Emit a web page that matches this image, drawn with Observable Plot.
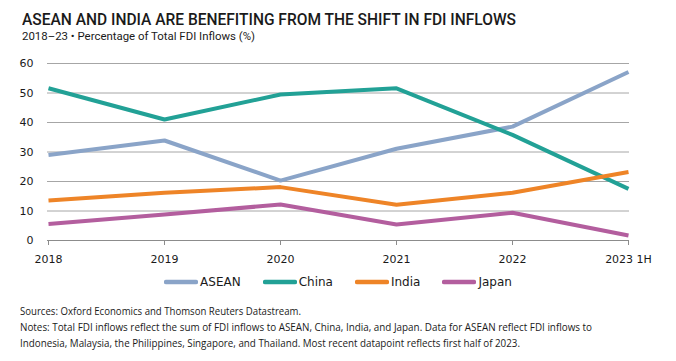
<!DOCTYPE html>
<html>
<head>
<meta charset="utf-8">
<script src="https://cdn.jsdelivr.net/npm/d3@7"></script>
<script src="https://cdn.jsdelivr.net/npm/@observablehq/plot@0.6"></script>
<style>
  html, body { margin: 0; padding: 0; background: #fff; }
  #page { position: relative; width: 676px; height: 361px; overflow: hidden; color: #1a1a1a; }
  .abs { position: absolute; white-space: nowrap; line-height: 1; transform-origin: 0 0; display: inline-block; }
  #title { left: 22px; top: 11.5px; font-family: Roboto, sans-serif; font-weight: 500; font-size: 16px; color: #1a1a1a; }
  #subtitle { left: 22px; top: 31px; font-family: Roboto, sans-serif; font-size: 11px; color: #1a1a1a; }
  #chart { position: absolute; left: 0; top: 50px; }
  #legend { position: absolute; left: 0; width: 676px; top: 274px; display: flex; justify-content: center; gap: 22px; font-family: "DejaVu Sans", sans-serif; font-size: 12px; color: #1a1a1a; }
  .item { display: flex; align-items: center; }
  .item svg { margin-right: 2px; }
  .note { left: 20px; font-family: "Open Sans", sans-serif; font-size: 10px; color: #1a1a1a; }
</style>
</head>
<body>
<div id="page">
  <span id="title" class="abs" data-w="494">ASEAN AND INDIA ARE BENEFITING FROM THE SHIFT IN FDI INFLOWS</span>
  <span id="subtitle" class="abs" data-w="233">2018–23 • Percentage of Total FDI Inflows (%)</span>
  <div id="chart"></div>
  <div id="legend"></div>
  <span class="abs note" style="top:306px" data-w="281">Sources: Oxford Economics and Thomson Reuters Datastream.</span>
  <span class="abs note" style="top:322px" data-w="572">Notes: Total FDI inflows reflect the sum of FDI inflows to ASEAN, China, India, and Japan. Data for ASEAN reflect FDI inflows to</span>
  <span class="abs note" style="top:337.5px" data-w="500">Indonesia, Malaysia, the Philippines, Singapore, and Thailand. Most recent datapoint reflects first half of 2023.</span>
</div>
<script>
const years = ["2018", "2019", "2020", "2021", "2022", "2023 1H"];
const seriesNames = ["ASEAN", "China", "India", "Japan"];
const seriesColors = ["#8AA4C8", "#22A196", "#EE8427", "#B35E9E"];
const asean = [29.0, 33.9, 20.3, 31.1, 38.6, 57.1];
const china = [51.6, 41.0, 49.5, 51.6, 35.8, 17.5];
const india = [13.6, 16.2, 18.1, 12.1, 16.2, 23.2];
const japan = [5.6, 8.8, 12.2, 5.4, 9.4, 1.7];
const yTicks = [0, 10, 20, 30, 40, 50, 60];

const valuesBySeries = [asean, china, india, japan];
const data = [];
seriesNames.forEach((s, i) => years.forEach((y, j) => data.push({series: s, year: y, value: valuesBySeries[i][j]})));

const chart = Plot.plot({
  width: 676,
  height: 220,
  marginTop: 13,
  marginBottom: 30,
  marginLeft: 47,
  marginRight: 47,
  style: {fontFamily: "DejaVu Sans, sans-serif", fontSize: "11px", color: "#1a1a1a", background: "transparent"},
  x: {type: "point", domain: years, padding: 0},
  y: {domain: [0, 60]},
  color: {domain: seriesNames, range: seriesColors},
  marks: [
    Plot.gridY(yTicks.filter(d => d !== 0), {stroke: "#a6a6a6", strokeOpacity: 1}),
    Plot.ruleY([0], {stroke: "#8c8c8c"}),
    Plot.axisY(yTicks, {tickSize: 0, tickPadding: 14, label: null, fill: "#1a1a1a"}),
    Plot.axisX(years, {tickSize: 5, tickPadding: 10, label: null, stroke: "#8c8c8c", fill: "#1a1a1a"}),
    Plot.line(data, {x: "year", y: "value", z: "series", stroke: "series", strokeWidth: 4, strokeLinejoin: "round", strokeLinecap: "butt"})
  ]
});
document.getElementById("chart").appendChild(chart);

const legend = document.getElementById("legend");
seriesNames.forEach((s, i) => {
  const item = document.createElement("div");
  item.className = "item";
  item.innerHTML = `<svg width="34" height="16"><line x1="2" y1="8" x2="32" y2="8" stroke="${seriesColors[i]}" stroke-width="4.5" stroke-linecap="round"/></svg><span>${s}</span>`;
  legend.appendChild(item);
});

function fit() {
  document.querySelectorAll("[data-w]").forEach(el => {
    el.style.transform = "none";
    const w = el.getBoundingClientRect().width;
    const target = +el.dataset.w;
    el.style.transform = `scaleX(${target / w})`;
  });
}
fit();
if (document.fonts && document.fonts.ready) document.fonts.ready.then(fit);
</script>
</body>
</html>
